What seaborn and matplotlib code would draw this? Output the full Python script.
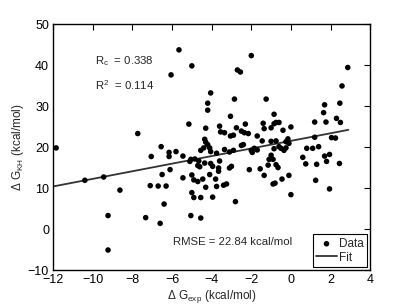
import matplotlib
matplotlib.use("Agg")
import matplotlib.pyplot as plt
import seaborn as sns
import pandas as pd

# ---- data ----
dg_exp = [-11.85, -10.4, -9.45, -9.23, -9.23, -8.63, -7.73, -7.33, -7.1, -7.05, -6.7, -6.6, -6.55, -6.5, -6.4, -6.3, -6.15, -6.15, -6.1,
          -6.05, -5.65, -5.0, -2.0, -2.7, -2.55, -4.05, -4.2, -4.2, -2.85, -1.25, -3.05, -0.85,
          2.87, 2.58, 2.47, 1.7, 1.65, 2.3,
          -5.15, -4.3, -3.6, -3.55, -3.35, -3.05, -2.9, -4.35, -4.3, -4.2, -4.4, -4.1, -4.55, -4.05, -3.75, -3.35, -3.1, -2.9,
          -5.8, -5.45, -5.1, -5.05, -4.85, -4.65, -4.7, -4.6, -4.35, -4.05, -3.95, -3.6, -3.65, -3.65, -3.1, -3.0,
          -5.45, -5.0, -4.9, -4.7, -4.45, -4.1, -3.8, -4.3, -3.75, -3.4, -3.25,
          -5.0, -4.9, -4.55, -3.95, -5.05, -4.55, -2.8,
          1.2, 1.77, 2.5, -2.75, -2.3, -2.5, -2.35, -2.15, -1.4, -1.35, -1.0, -0.85, -0.75, -0.6, -0.4, 0.0,
          -1.7, -1.45, -1.0, -0.75, -0.25, -0.15, -0.1, 2.05, 2.25, 1.2,
          -2.5, -2.4, -2.0, -1.85, -1.7, -1.95, -0.85, -0.6, -0.5, -0.35, -0.25, 0.8, 1.1, 1.4, 0.6, 1.7, 1.95, 0.75, 1.3, 1.8, 2.45,
          -1.0, -1.1, -0.9, -1.15, -0.75, -0.65, -1.55, -2.1, -1.35, -0.45, -0.1, -0.8, -0.9, 0.0, 1.25, 1.95]
dg_kh = [19.8, 11.9, 12.7, 3.3, -5.1, 9.5, 23.3, 2.8, 10.6, 17.7, 10.5, 1.4, 20.1, 13.3, 6.1, 10.5, 18.7, 17.7, 14.5,
         37.6, 43.7, 39.8, 42.3, 38.8, 38.3, 33.2, 30.7, 29.0, 31.7, 31.7, 27.5, 28.0,
         39.4, 34.9, 30.7, 30.3, 28.4, 27.0,
         25.6, 24.6, 25.1, 23.7, 23.5, 22.7, 22.9, 21.9, 21.2, 20.6, 19.8, 19.8, 19.2, 18.9, 18.5, 19.4, 18.8, 19.2,
         18.9, 17.8, 16.5, 17.0, 17.1, 16.6, 15.5, 15.2, 16.1, 16.0, 15.3, 16.6, 14.9, 14.1, 14.9, 15.3,
         12.5, 13.2, 12.0, 11.6, 12.2, 13.3, 12.2, 10.2, 10.4, 10.7, 11.0,
         8.9, 7.7, 7.7, 7.8, 3.3, 2.7, 6.7,
         26.1, 26.1, 26.0, 24.7, 25.6, 23.9, 23.5, 23.3, 25.8, 24.5, 24.7, 25.7, 26.0, 26.0, 24.1, 24.9,
         22.7, 21.5, 21.4, 21.5, 21.3, 22.0, 20.9, 22.3, 22.2, 22.4,
         20.4, 20.6, 19.2, 19.7, 19.3, 18.7, 19.6, 20.1, 19.7, 19.2, 19.8, 19.7, 19.7, 20.1, 17.5, 17.8, 18.2, 15.9, 15.8, 16.5, 16.0,
         18.0, 17.0, 17.0, 15.6, 15.7, 15.0, 14.7, 14.5, 13.1, 12.2, 13.1, 11.2, 11.0, 8.4, 11.9, 9.8]
fit_x = [-12.0, 2.9]
fit_y = [10.4, 24.2]
x_ticks = [-12, -10, -8, -6, -4, -2, 0, 2, 4]
y_ticks = [-10, 0, 10, 20, 30, 40, 50]

# ---- style ----
sns.set_theme(style="white")
plt.rcParams['font.family'] = ['Liberation Sans', 'DejaVu Sans']
plt.rcParams['mathtext.fontset'] = 'custom'
plt.rcParams['mathtext.rm'] = 'Liberation Sans'
plt.rcParams['mathtext.it'] = 'Liberation Sans:italic'
plt.rcParams['mathtext.default'] = 'regular'

fig = plt.figure(figsize=(4.09, 3.08), dpi=100)
ax = fig.add_axes([0.130, 0.123, 0.775, 0.799])

df = pd.DataFrame({"exp": dg_exp, "kh": dg_kh})
sns.scatterplot(data=df, x="exp", y="kh", ax=ax, color="black", s=16,
                edgecolor="none", label="Data", zorder=3)
fit_df = pd.DataFrame({"x": fit_x, "y": fit_y})
sns.lineplot(data=fit_df, x="x", y="y", ax=ax, color="#333333", lw=1.3,
             label="Fit", zorder=2)

ax.set_xlim(-12, 4)
ax.set_ylim(-10, 50)
ax.set_xticks(x_ticks)
ax.set_yticks(y_ticks)
ax.tick_params(direction="in", length=4, width=0.8, top=True, right=True,
               labelsize=9, colors="black", pad=3)
for s in ax.spines.values():
    s.set_color("black")
    s.set_linewidth(1.0)

ax.set_xlabel(r"$\Delta$ G$_{\mathrm{exp}}$ (kcal/mol)", fontsize=8.5, labelpad=1)
ax.set_ylabel(r"$\Delta$ G$_{\mathrm{KH}}$ (kcal/mol)", fontsize=8.5, labelpad=1)

ax.text(-9.9, 41.0, r"R$_{\mathrm{c}}$  = 0.338", fontsize=8.2, va="center")
ax.text(-9.9, 35.0, r"R$^{2}$  = 0.114", fontsize=8.2, va="center")
ax.text(-5.95, -3.2, "RMSE = 22.84 kcal/mol", fontsize=8.2, va="center")

leg = ax.legend(loc="lower right", fontsize=8.5, frameon=True, fancybox=False,
                edgecolor="black", framealpha=1, borderpad=0.3,
                handlelength=1.7, handletextpad=0.2, labelspacing=0.15,
                borderaxespad=0.25)
leg.get_frame().set_linewidth(0.8)

fig.savefig("out.png", dpi=100)
